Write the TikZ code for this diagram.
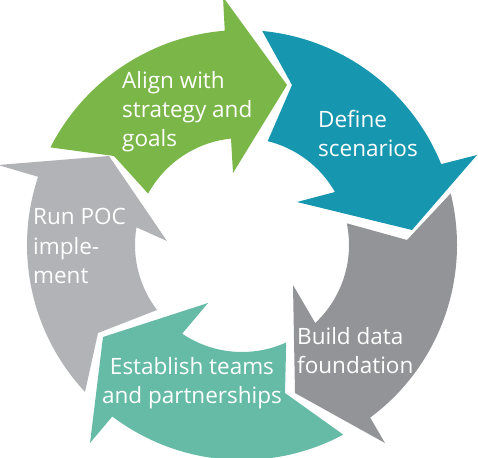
\documentclass[tikz,border=0pt]{standalone}
\usepackage{fontspec}
\setmainfont{Open Sans}
\definecolor{cgreen}{HTML}{7AB648}
\definecolor{cblue}{HTML}{1796B0}
\definecolor{cgray}{HTML}{939498}
\definecolor{cteal}{HTML}{65BBA6}
\definecolor{clight}{HTML}{B2B3B7}
\tikzset{
  lbl/.style={text=white, inner sep=0pt, font=\fontsize{22.5}{29}\selectfont},
}
\begin{document}
\begin{tikzpicture}[x=1pt,y=1pt]
\useasboundingbox (-242,-212) rectangle (236,245);
\clip (-242,-212) rectangle (236,245);
% Run POC (light gray, left)
\fill[clight] (223.1:215) arc[start angle=223.1,end angle=161.5,radius=215]
  -- (-244,80) -- (-133,89) -- (-75,4)
  -- (170.5:107) arc[start angle=170.5,end angle=217.4,radius=107]
  -- (-144,-88) -- cycle;
% Align (green, top)
\fill[cgreen] (153:215) arc[start angle=153,end angle=94.6,radius=215]
  -- (-19,248) -- (45,160) -- (-9,72)
  -- (95.9:107) arc[start angle=95.9,end angle=151.3,radius=107]
  -- (-128,89) -- cycle;
% Define (blue, top right)
\fill[cblue] (84.6:215) arc[start angle=84.6,end angle=22.1,radius=215]
  -- (235,90) -- (170,15) -- (55,43)
  -- (29.7:107) arc[start angle=29.7,end angle=76.1,radius=107]
  -- (50,160) -- cycle;
% Build (gray, right)
\fill[cgray] (13.9:215) arc[start angle=13.9,end angle=-53.4,radius=215]
  -- (143,-198) -- (53,-148) -- (51,-40)
  -- (-46.8:107) arc[start angle=-46.8,end angle=11.7,radius=107]
  -- (165,5) -- cycle;
% Establish (teal, bottom)
\fill[cteal] (-61.9:215) arc[start angle=-61.9,end angle=-127.1,radius=215]
  -- (-152,-198) -- (-139,-92) -- (-34,-58)
  -- (-124:107) arc[start angle=-124,end angle=-65.6,radius=107]
  -- (43,-148) -- cycle;
% labels (anchored at the baseline of the last line)
\node[lbl, anchor=base west, align=left] (align) at (-120,98) {Align with\\strategy and\\goals};
\node[lbl, anchor=base west, align=left] (define) at (76,88) {Define\\scenarios};
\node[lbl, anchor=base west, align=left] (build) at (55,-128) {Build data\\foundation};
\node[lbl, anchor=base, align=center] (establish) at (-50,-158) {Establish teams\\and partnerships};
\node[lbl, anchor=base west, align=left] (runpoc) at (-209,-38) {Run POC\\imple-\\ment};
\end{tikzpicture}
\end{document}
